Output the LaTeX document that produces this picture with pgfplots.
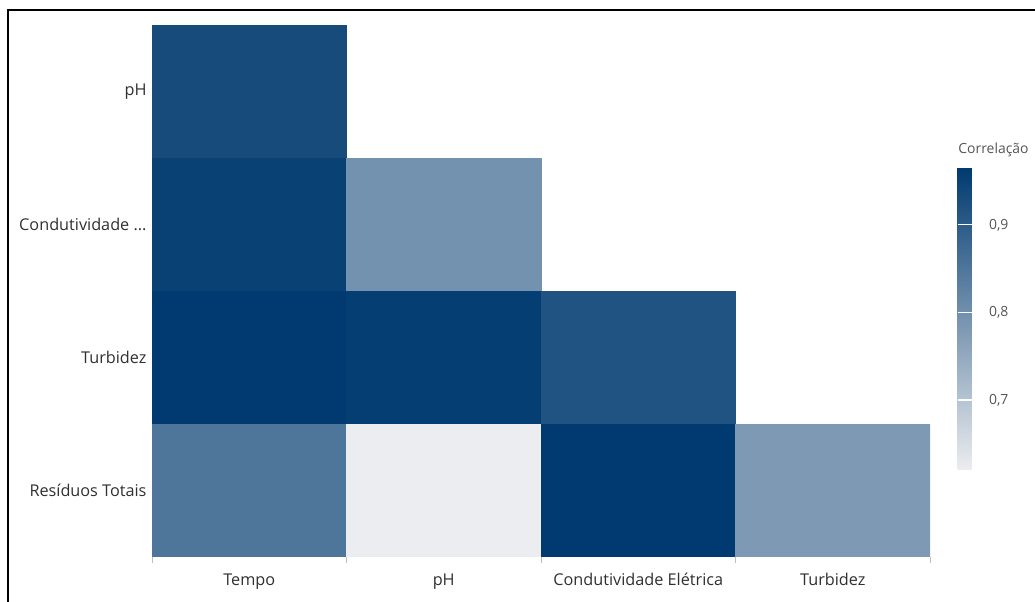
\documentclass[border=0pt]{standalone}
\usepackage{pgfplots}
\pgfplotsset{compat=1.18}
\usepgfplotslibrary{patchplots}
\usepackage{fontspec}
\setmainfont{Open Sans}
\definecolor{lab}{HTML}{303030}
\definecolor{cblab}{HTML}{555555}
\definecolor{axgray}{HTML}{BDBDBD}

% correlation cells: corners of each square, value in c
\pgfplotstableread{
x    y    c
-0.5 2.5  0.93
 0.5 2.5  0.93
 0.5 3.5  0.93
-0.5 3.5  0.93
-0.5 1.5  0.95
 0.5 1.5  0.95
 0.5 2.5  0.95
-0.5 2.5  0.95
-0.5 0.5  0.965
 0.5 0.5  0.965
 0.5 1.5  0.965
-0.5 1.5  0.965
-0.5 -0.5 0.85
 0.5 -0.5 0.85
 0.5 0.5  0.85
-0.5 0.5  0.85
 0.5 1.5  0.795
 1.5 1.5  0.795
 1.5 2.5  0.795
 0.5 2.5  0.795
 0.5 0.5  0.955
 1.5 0.5  0.955
 1.5 1.5  0.955
 0.5 1.5  0.955
 0.5 -0.5 0.62
 1.5 -0.5 0.62
 1.5 0.5  0.62
 0.5 0.5  0.62
 1.5 0.5  0.915
 2.5 0.5  0.915
 2.5 1.5  0.915
 1.5 1.5  0.915
 1.5 -0.5 0.965
 2.5 -0.5 0.965
 2.5 0.5  0.965
 1.5 0.5  0.965
 2.5 -0.5 0.78
 3.5 -0.5 0.78
 3.5 0.5  0.78
 2.5 0.5  0.78
}\corrcells

\begin{document}
\begin{tikzpicture}[x=1bp,y=1bp]
\useasboundingbox (0,0) rectangle (1035,602);
\draw[line width=2bp] (8,-2) -- (8,592) -- (1037,592);
\begin{axis}[
  at={(152bp,45bp)}, anchor=south west,
  scale only axis, width=778bp, height=532bp,
  xmin=-0.5, xmax=3.5, ymin=-0.5, ymax=3.5,
  axis x line=bottom, axis y line=left,
  axis line style={-, axgray, line width=1bp},
  xtick={0,1,2,3},
  xticklabels={Tempo,pH,Condutividade Elétrica,Turbidez},
  ytick={0,1,2,3},
  yticklabels={Resíduos Totais,Turbidez,Condutividade .{}.{}.,pH},
  minor xtick={-0.5,0.5,1.5,2.5,3.5},
  major tick length=0pt, minor tick length=6bp,
  xtick align=outside,
  tick style={axgray, line width=1bp},
  tick label style={font=\fontsize{16.3}{19}\selectfont, text=lab},
  xticklabel style={yshift=-13bp},
  yticklabel style={xshift=-2bp},
  colormap={corr}{rgb255=(236,237,240) rgb255=(0,58,112)},
  point meta min=0.62, point meta max=0.965,
  colorbar,
  colorbar style={
    at={(parent axis.north east)},
    anchor=north west,
    xshift=19bp, yshift=-143bp,
    scale only axis, width=17bp, height=302bp,
    ytick={0.7,0.8,0.9},
    yticklabel style={/pgf/number format/.cd, fixed, fixed zerofill, precision=1, use comma, assume math mode=true},
    tick label style={font=\fontsize{14}{16}\selectfont, text=cblab, xshift=11bp},
    major tick length=0pt,
    ymajorgrids, major grid style={white, line width=1.2bp},
    axis on top, axis line style={draw=none},
  },
]
\addplot[patch, patch type=rectangle, shader=flat corner, point meta=explicit]
  table[x=x, y=y, meta=c] {\corrcells};
\end{axis}
\node[font=\fontsize{14}{16}\selectfont, text=cblab] at (993.5,452) {Correlação};
\end{tikzpicture}
\end{document}
